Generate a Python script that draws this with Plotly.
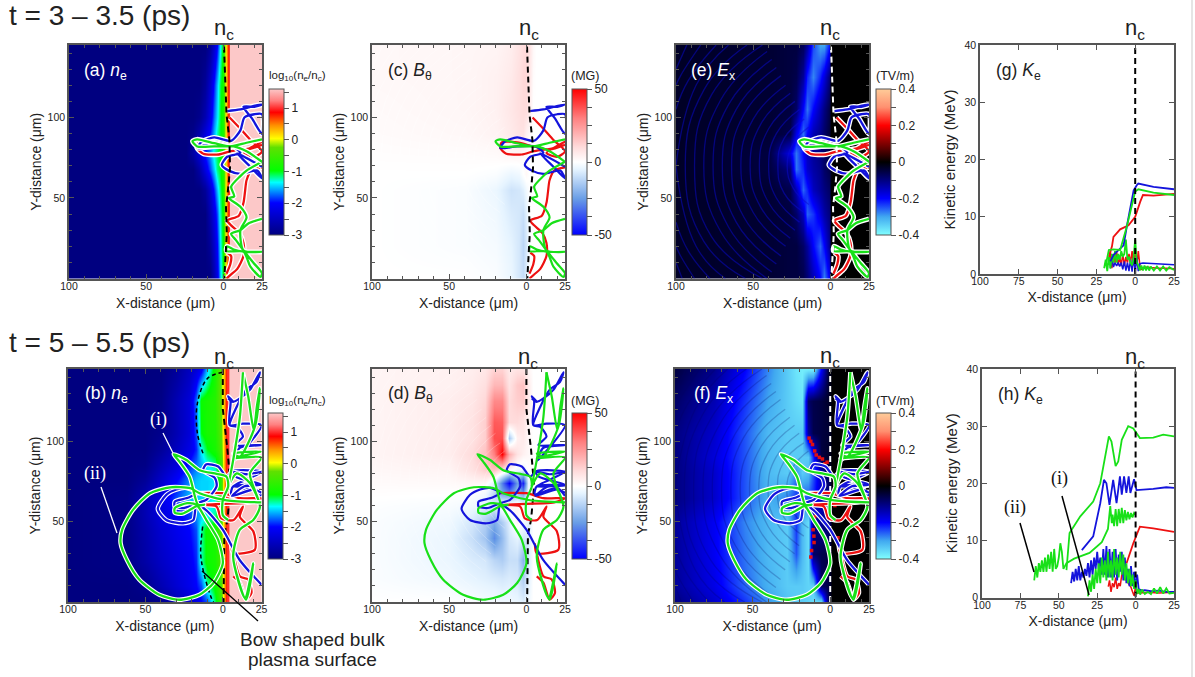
import plotly.graph_objects as go

W, H = 1195, 677

# ---------- field data ----------
NE_A_U = [-100,-24,-20,-16,-12,-9,-6,-4,-2,-0.5,1,2.5,3.5,4.5,25]
NE_A_Y = [0,20,40,55,68,78,88,100,120,145]
NE_A_Z = [
 [-3,-3,-3,-3,-3,-3,-2.6,-2.2,-1.5,-1,-0.1,0.5,1,1.6,1.6],
 [-3,-3,-3,-3,-3,-2.8,-2.4,-2,-1.4,-0.9,-0.1,0.5,1,1.6,1.6],
 [-3,-3,-3,-3,-3,-2.6,-2.2,-1.8,-1.25,-0.9,-0.1,0.5,1,1.6,1.6],
 [-3,-3,-3,-3,-2.8,-2.4,-1.9,-1.5,-1.15,-0.8,-0.1,0.5,1,1.6,1.6],
 [-3,-3,-3,-2.7,-2.2,-1.8,-1.45,-1.15,-1,-0.8,-0.1,0.5,1,1.6,1.6],
 [-3,-3,-2.7,-2.3,-1.9,-1.6,-1.25,-1.1,-0.9,-0.7,-0.1,0.5,1,1.6,1.6],
 [-3,-3,-2.9,-2.6,-2.2,-1.9,-1.5,-1.2,-1,-0.8,-0.1,0.5,1,1.6,1.6],
 [-3,-3,-3,-2.9,-2.6,-2.2,-1.7,-1.4,-1.05,-0.8,-0.1,0.5,1,1.6,1.6],
 [-3,-3,-3,-3,-2.8,-2.4,-1.9,-1.5,-1.1,-0.8,-0.1,0.5,1,1.6,1.6],
 [-3,-3,-3,-3,-3,-2.8,-2.4,-2,-1.4,-0.9,-0.1,0.5,1,1.6,1.6],
]
NE_B_U = [-100,-62,-50,-40,-30,-22,-17,-14,-10,-5,-1,1,2.5,3.5,4.5,25]
NE_B_Y = [0,10,25,45,55,65,75,85,95,105,125,145]
NE_B_Z = [
 [-3,-3,-3,-2.9,-2.6,-2.4,-2.2,-2,-1.8,-1.1,-0.5,0.3,1,1,1.6,1.6],
 [-3,-3,-2.9,-2.6,-2.35,-2.15,-2,-1.8,-1.2,-0.9,-0.4,0.3,1,1,1.6,1.6],
 [-3,-2.95,-2.7,-2.45,-2.25,-2.1,-1.9,-1.25,-0.9,-0.8,-0.4,0.3,1,1,1.6,1.6],
 [-3,-2.95,-2.65,-2.35,-2.15,-2,-1.8,-1.2,-0.9,-0.8,-0.4,0.3,1,1,1.6,1.6],
 [-3,-2.95,-2.6,-2.25,-2.05,-1.85,-1.6,-1.5,-1.4,-1.2,-0.5,0.3,1,1,1.6,1.6],
 [-3,-2.95,-2.6,-2.2,-1.8,-1.5,-1.45,-1.45,-1.45,-1.3,-0.6,0.3,1,1,1.6,1.6],
 [-3,-3,-2.8,-2.4,-2,-1.65,-1.5,-1.45,-1.45,-1.4,-0.6,0.3,1,1,1.6,1.6],
 [-3,-3,-2.95,-2.6,-2.3,-1.9,-1.7,-1.55,-1.35,-1.2,-0.6,0.3,1,1,1.6,1.6],
 [-3,-3,-3,-2.8,-2.5,-2.2,-1.9,-1.35,-1,-0.8,-0.4,0.3,1,1,1.6,1.6],
 [-3,-3,-3,-2.9,-2.6,-2.3,-1.8,-1,-0.8,-0.75,-0.3,0.3,1,1,1.6,1.6],
 [-3,-3,-3,-2.95,-2.6,-2.3,-1.7,-0.9,-0.8,-0.7,-0.2,0.3,1,1,1.6,1.6],
 [-3,-3,-3,-3,-2.8,-2.5,-2.3,-2.1,-1.5,-0.8,-0.2,0.3,1,1,1.6,1.6],
]
B_C_U = [-100,-40,-20,-10,-5,-2,0,2,4,6,25]
B_C_Y = [0,20,40,55,65,75,90,105,125,145]
B_C_Z = [
 [0,0,-1,-4,-8,-10,-6,0,0,0,0],
 [0,-1,-2,-5,-8,-12,-8,-1,0,0,0],
 [0,-1,-3,-7,-8,-10,-6,0,0,0,0],
 [0,-1,-4,-9,-8,-6,-3,0,0,0,0],
 [0,0,-1,-4,-3,0,2,0,0,0,0],
 [0.5,0.7,1,2,2,1,1,0,0,0,0],
 [1.2,2,3.5,6,8,8,4,2,0,0,0],
 [1.5,2.5,4,7,9,10,10,6,0,0,0],
 [2,2.5,4,6,9,11,11,8,1,0,0],
 [2,2.5,3,5,8,10,11,8,2,0,0],
]
B_D_U = [-100,-50,-35,-27,-21,-16,-11,-6,-2,1,4,25]
B_D_Y = [0,15,26,40,50,60,67,74,82,92,102,112,125,135,145]
B_D_Z = [
 [0,0,-1,-2,-2,-3,-3,-4,-6,-3,0,0],
 [-1,-3,-5,-6,-7,-8,-7,-8,-14,-6,0,0],
 [-1,-4,-7,-8,-12,-14,-10,-10,-20,-8,0,0],
 [-1,-4,-10,-16,-28,-18,-8,-5,-8,-8,0,0],
 [-1,-3,-8,-14,-22,-14,-6,3,-2,-6,0,0],
 [-0.5,-1.5,-3,-6,-6,2,4,3,0,-3,0,0],
 [0.3,0,-0.5,-3,-12,-22,-25,-15,-22,-3,0,0],
 [1.2,1.5,2.5,2,-6,-30,-50,-25,-45,-5,0,0],
 [2.2,3,8,13,15,8,2,-3,-5,0,0,0],
 [3,5,10,16,30,50,20,8,4,2,0,0],
 [3,5,8,13,38,38,-15,4,6,2,0,0],
 [3,5,8,13,36,35,10,10,8,3,0,0],
 [3,5,7,11,28,28,10,13,14,6,0,0],
 [3,4,6,9,18,18,8,14,16,6,0,0],
 [3,4,5,7,12,12,6,8,8,3,0,0],
]
E_E_U = [-100,-40,-26,-22,-18,-15,-11,-7,-4,-1,0.5,2,25]
E_E_Y = [0,20,40,55,68,78,90,105,125,145]
E_E_Z = [
 [-.03,-.04,-.05,-.05,-.06,-.09,-.14,-.2,-.28,-.2,0,0,0],
 [-.03,-.04,-.05,-.05,-.08,-.12,-.2,-.26,-.2,-.12,0,0,0],
 [-.03,-.04,-.05,-.08,-.15,-.26,-.23,-.17,-.13,-.1,0,0,0],
 [-.03,-.04,-.06,-.14,-.26,-.22,-.15,-.12,-.1,-.08,0,0,0],
 [-.03,-.05,-.1,-.27,-.22,-.16,-.13,-.11,-.08,-.06,-.02,0,0],
 [-.03,-.05,-.18,-.27,-.2,-.15,-.12,-.1,-.08,-.06,0,0,0],
 [-.03,-.04,-.06,-.18,-.27,-.2,-.14,-.11,-.08,-.05,0,0,0],
 [-.03,-.04,-.05,-.08,-.2,-.27,-.2,-.14,-.1,-.06,0,0,0],
 [-.03,-.04,-.05,-.06,-.12,-.22,-.28,-.22,-.17,-.1,0,0,0],
 [-.03,-.04,-.05,-.05,-.07,-.12,-.24,-.3,-.3,-.22,0,0,0],
]
E_F_U = [-100,-75,-55,-40,-28,-22,-18,-14,-11,-6,-1,1,25]
E_F_Y = [0,10,30,50,65,80,90,105,125,145]
E_F_Z = [
 [-.1,-.16,-.23,-.29,-.33,-.34,-.34,-.35,-.36,-.36,-.03,0,0],
 [-.12,-.18,-.26,-.31,-.34,-.34,-.34,-.35,-.35,-.08,-.05,0,0],
 [-.12,-.19,-.27,-.32,-.34,-.25,-.32,-.36,-.08,-.06,-.05,0,0],
 [-.12,-.19,-.28,-.32,-.34,-.23,-.32,-.36,-.1,-.12,-.1,0,0],
 [-.1,-.16,-.25,-.31,-.28,-.23,-.25,-.25,-.22,-.15,-.1,0,0],
 [-.1,-.16,-.25,-.32,-.34,-.28,-.34,-.32,-.25,-.15,-.05,0,0],
 [-.1,-.17,-.25,-.32,-.34,-.34,-.34,-.34,-.22,-.05,-.03,0,0],
 [-.1,-.16,-.25,-.32,-.34,-.34,-.34,-.12,-.06,-.05,-.04,0,0],
 [-.08,-.14,-.23,-.3,-.34,-.36,-.37,-.08,-.06,-.05,-.03,0,0],
 [-.05,-.11,-.2,-.28,-.34,-.37,-.38,-.38,-.38,-.2,-.03,0,0],
]

# ---------- wavefront streaks seen in the field maps ----------
STREAK_X = [-14,-24,-28,-24,-14,None,-17,-30,-34,-30,-17,None,-20,-35,-40,-35,-20,None,-23,-40,-46,-40,-23,None,
            -26,-45,-52,-45,-26,None,-29,-50,-58,-50,-29,None,-32,-56,-64,-56,-32,None,-35,-61,-70,-61,-35,None,
            -38,-66,-76,-66,-38,None,-41,-71,-82,-71,-41,None,-44,-77,-88,-77,-44,None,-54,-82,-94,-82,-55,None,
            -66,-87,-100,None,-100,-87,-68,None,-74,-92,-100,None,-100,-92,-78,None,-84,-97,-100,None,-100,-97,-88,None,-93,-100,None,-100,-96]
STREAK_Y = [94,84,70,56,46,None,99,87,70,53,41,None,105,90,70,50,35,None,110,93,70,47,30,None,
            115,96,70,44,25,None,120,99,70,41,20,None,126,102,70,38,14,None,131,105,70,35,9,None,
            136,108,70,32,4,None,141,111,70,29,0,None,145,114,70,26,0,None,145,117,70,23,0,None,
            145,120,70,None,70,20,0,None,145,123,105,None,35,17,0,None,145,126,120,None,20,14,0,None,145,130,None,10,0]
F_RED_X = [-13.6,-12.5,-11.4,-10,-9,-7,-5,-2,-8,-10,-11,-10.4,-12.5,-12,-10.5,3,5,-3.5]
F_RED_Y = [102,100,98,94,91.5,90,89,87,47,53,45,37,28,32,41,60,40,86]

# ---------- critical-density contours ----------
NC_T1_X = [0.4,1,2,3.9,4.3,3.2,1.7,2.2,0.6]
NC_T1_Y = [144,124,102,86,69,57,44,28,0]
NC_T2_X = [0,0,3,5,3,1,0.5]
NC_T2_Y = [145,120,95,72,51,42,0]
BOW_UP_X = [0,-10,-16.4,-16.4,-12]
BOW_UP_Y = [143,139,123.6,105,90.5]
BOW_LO_X = [-13,-14.3,-12.5,-7.8,-6]
BOW_LO_Y = [47,30.4,19,3.5,0]

# ---------- trajectories, first time window ----------
T1_RED_1_X = [2,5,9,13,13,10.5,5,2.5,10,13,14,15,18,25]
T1_RED_1_Y = [0,2.5,6,14,22,28,33,36,39,47,54,61,67,69]
T1_RED_2_X = [2.5,5,4.5,2]
T1_RED_2_Y = [16,14,9,3]
T1_RED_3_X = [4,11,17.5,25,20,13,25,17.5,4.5,-3,-13,-17,-16,-6,4.5,15,25]
T1_RED_3_Y = [100,93,86,79,75.6,78,85,81,79,77,77.5,81,84.5,84.5,82,80,83]
T1_BLUE_X = [2.5,11,22,25,20,13,18.5,25,25,20,13.6,11,5,-6,-14,-17,-14,-6,6,11,2.4,-1,3.5,11,22,25,17.5,9,25]
T1_BLUE_Y = [104,105,107.6,108,106.6,106.6,99.4,89.7,102,102,100,92,85.5,87.6,85,81,81,82,82,78,75.6,70.5,67,65,67,62,69.4,77.7,69.4]
T1_GREEN_1_X = [25,15,4.5,-6,-17,-20,-17,-6,6.7,15,25]
T1_GREEN_1_Y = [86.4,84.3,82,84,86.4,85.3,82,82,82,79,72.5]
T1_GREEN_2_X = [25,15,11,5,7,3.5,11,15,11,13,25,13,6.7,2.4,2,13,17.5,24,25,19.7,13,8,5,11,16.4,25]
T1_GREEN_2_Y = [72.5,67,63.6,57,51,50,44.6,38,30,17.4,16.5,16.7,18,20,17,16.7,7.4,1,3.3,9.5,17.4,24,27.7,30,34.3,37]

# ---------- trajectories, second time window ----------
T2_GREEN_II_X = [25,2.5,-15,-21,-34,-47,-58,-65,-66,-62,-54,-41,-28,-15,-6,0,-3,-10.6,-17,-23,-31,-31,-26,-17,-12,-16,-21.4,-28,-31.7,-23.5,-15,-4,2.4,3.5,0,0,3.5]
T2_GREEN_II_Y = [62,63.3,67.7,70.8,71.4,67.7,57.3,45,36.6,26.3,14,4.5,1.4,4.5,11.8,24,38.7,51,60.5,61.5,58.4,55.5,55,59.6,60.5,60.5,78,87.4,92,88.4,82,79.7,78,72,63.6,54,51]
T2_GREEN_R_X = [13,16.4,20,22,24,21,11,6.7,25,6.7,25,17.5,24,19.7,11,6.7,14.3,19.7,15,6.7,11,19.7,24,17.5,9,3.5]
T2_GREEN_R_Y = [143,128,107,121.5,133,110,90.5,92.5,93.6,89.5,90,80,59.4,51,45,28,2.5,24,1.5,28,45,51,59.4,74,80,72]
T2_GREEN_3_X = [13,11,7,3.5]
T2_GREEN_3_Y = [143,115,90,72]
T2_BLUE_1_X = [25,11,0,-10.6,-17,-19,-25.7,-36.5,-42,-36.5,-30,-23.5,-17,-22,-31,-31,-25,-17,-10.6,-4,-5,-12.7,-10.6,-3,2.4,6.7,25,6.7,25,6.7,5.5,20,25]
T2_BLUE_1_Y = [10.8,26,45,57,60.5,51,49,51,58,66.7,70,71,68,65,62.5,59.4,58.5,61.5,63.6,72,77,82,85.7,84.3,78,81.5,81,72,72.5,72,67,71,66]
T2_BLUE_2_X = [3.5,6.7,11,17.5,24,21.8,15,9,4.5,9,13,7.8,25,11,7,25,13,4.5,5,3.5,6.7]
T2_BLUE_2_Y = [126.7,124.6,126.7,132,143,137,132,121.5,110,109,103,97.7,97.7,96,88,110,111,110,125,128,124.6]
T2_BLUE_3_X = [25,15,6,8,25,14,6,20,25]
T2_BLUE_3_Y = [81,79.5,81,78,73,72,66,70,68]
T2_RED_X = [-17,0,11,25,18,-15,-4,-1,7,13,11,19.7,20.7,6.7,5.5,11,16.4,18.5,15,11,6.7]
T2_RED_Y = [67.7,67.7,64.6,64.6,62,60.5,59.4,52,51,59.4,53,44,32.5,30.4,36,16,14,5.6,1.5,12,16]

# ---------- kinetic energy, first window ----------
G_BLUE_X = [-16,-14,-11.8,-7.5,-5.4,-1,1,2,11.8,25]
G_BLUE_Y = [2.2,3.3,3.9,5,8.3,14.6,15.5,15.8,15.2,14.8]
G_RED_X = [-17,-15,-14,-9.7,-4.3,0,3.2,5,11.8,25]
G_RED_Y = [3,4.8,6.5,7.8,8.5,10,12.6,13.8,13.7,14]
G_GREEN_X = [-19,-17,-14,-9.7,-5.4,0,2,11.8,25]
G_GREEN_Y = [1.5,4.2,4.3,4.2,8.3,14.4,14.8,14.2,13.8]
G_LOW_RED_X = [-17,-16,-15,-14,-13,-12,-11,-10,-9,-8,-7,-6,-5,-4,-3,-2,-1,0,1,2,3,4,6,10,15,20,25]
G_LOW_RED_Y = [2,4,1,3.5,2,4,1.5,3,1.5,3.5,1.5,3,2,3.5,2,4,1.5,4.5,1.5,4,1.5,0.8,1.2,1.1,1,1,0.9]
G_LOW_BLUE_X = [-16,-15,-14,-13,-12,-11,-10,-9,-8,-7,-6,-5,-4,-3,-2,-1,0,1,2,3,5,10,15,20,25]
G_LOW_BLUE_Y = [1,3,1.2,2,1.4,2,1.3,2,0.8,2.2,0.6,2,0.5,2.5,0.4,3,0.3,3,0.5,1.8,1.9,1.8,1.7,1.7,1.6]
G_LOW_GREEN_X = [-20,-19,-18,-17,-16,-15,-14,-13,-12,-11,-10,-9,-8,-7,-6,-5,-4,-3,-2,-1,0,1,2,3,4,5,6,7,8,9,10,12,14,16,18,20,22,25]
G_LOW_GREEN_Y = [1,2.5,0.5,3,1,3.5,2,4,2,3.5,2.5,4,3,3.5,6,2.5,3,2,1.5,3,6,2,1.5,0.6,1.5,0.6,1.5,0.6,1.4,0.6,1.3,0.6,1.3,0.6,1.3,0.6,1.2,0.7]

# ---------- kinetic energy, second window ----------
H_GREEN_TOP_X = [-45,-43,-36,-27.6,-23,-20,-17.4,-15.7,-13,-11.3,-9,-4.8,-1.5,2.8,11.5,18,25]
H_GREEN_TOP_Y = [4.8,11.3,14.2,16.8,20,24.7,28.2,27.3,23,23.8,27.6,30,29.6,27.9,28,28.5,28.2]
H_BLUE_TOP_X = [-35,-27.6,-23,-20.6,-19,-17,-14.6,-12.4,-10.2,-9,-7.5,-6,-4.5,-3.4,-1,0.6,11.5,20,25]
H_BLUE_TOP_Y = [8.3,10.7,16.5,20.6,20,16.2,20.6,16.5,21.2,18,21.2,18.3,21.2,18.3,20.7,18.8,19,19.3,19.2]
H_GREEN_II_X = [-66,-65,-64,-63,-62,-61,-60,-59,-58,-57,-56,-55,-54,-53,-52,-51,-50,-49,-48,-47,-45,-40,-30,-22,-18,-17,-16.5,-15.5,-15,-14,-13,-12,-11,-10,-9,-8,-7,-6,-5,-4,-3,-2,-1,0]
H_GREEN_II_Y = [3,5.5,3.5,6,4.5,6.5,4.5,7,4.5,7.5,5,8,4.5,8.5,5,5.5,7,9.5,8,5,6,6.8,7.8,9.7,12,14.5,16,13,14.5,12.5,15.5,12.5,15.5,13,15.7,13,15.3,13.5,15,13.7,14.8,14,14.8,14.5]
H_RED_TOP_X = [-5.9,-1.5,2.8,11.5,25]
H_RED_TOP_Y = [6,9.5,12.4,12.1,11.5]
H_RED_LOW_X = [-17.8,-17,-16,-15,-14,-13,-12,-11,-10,-9,-8,-7,-6,-5,-4,-3,-2,-1,0,1,3,8,15,25]
H_RED_LOW_Y = [1.9,3,1,2.5,1.8,3.5,1.5,2.5,2,4,4.2,3.5,3,2.6,2.2,1.8,1,0.3,2,0.8,0.8,0.9,0.8,0.9]
H_BLUE_LOW_X = [-42,-41,-40,-39,-38,-37,-36,-35,-34,-33,-32,-31,-30,-29,-28,-27,-26,-25,-24,-23,-22,-21,-20,-19,-18,-17,-16,-15,-14,-13,-12,-11,-10,-9,-8,-7,-6,-5,-4,-3,-2,-1,0,1,2,4,6,10,15,20,25]
H_BLUE_LOW_Y = [2.5,4.5,2.8,5,3,5.5,3,4.5,3.5,5,3.8,6,3.5,6.5,4,7,5,8,5,7,4,8.5,4,9,3.5,8.5,3.5,8,3.5,8.5,3,7.5,4.5,8,3,7,2.5,5,2,5.5,2,4.5,1.5,4,1.5,1.2,1.3,1.1,1.2,1,1]
H_GREEN_LOW_X = [-31,-30,-29,-28,-27,-26,-25,-24,-23,-22,-21,-20,-19,-18,-17,-16,-15,-14,-13,-12,-11,-10,-9,-8,-7,-6,-5,-4,-3,-2,-1,0,1,2,3,4,6,8,10,12,14,16,18,20,22,25]
H_GREEN_LOW_Y = [0.2,3,1,4,1.5,5,2.5,6,2.5,7,3.5,6.5,3,8,3.5,6.5,3,8.5,4,7,3.5,8,4,7.5,3,6,2.5,5,2,4,1.5,3,0.6,1.5,0.5,1.4,0.6,1,0.6,1.6,0.7,1.8,0.7,1.6,0.7,0.8]

# ---------- tick labels ----------
MAP_X_VALS = [-100,-50,0,25]
MAP_X_TEXT = ["100","50","0","25"]
MAP_Y_VALS = [50,100]
KE_X_VALS = [-100,-75,-50,-25,0,25]
KE_X_TEXT = ["100","75","50","25","0","25"]
KE_Y_VALS = [0,10,20,30,40]
NE_TICKS = [-3,-2.5,-2,-1.5,-1,-0.5,0,0.5,1,1.5]
NE_TEXT = ["-3","","-2","","-1","","0","","1",""]
B_TICKS = [-50,-37.5,-25,-12.5,0,12.5,25,37.5,50]
B_TEXT = ["-50","","","","0","","","","50"]
E_TICKS = [-0.4,-0.3,-0.2,-0.1,0,0.1,0.2,0.3,0.4]
E_TEXT = ["-0.4","","-0.2","","0","","0.2","","0.4"]

# ---------- colours ----------
CS_NE = [[0,"#000080"],[0.125,"#0000c8"],[0.22,"#0000ff"],[0.36,"#00ffff"],[0.44,"#00ff00"],[0.6,"#60e000"],[0.66,"#ffff00"],[0.75,"#ff9000"],[0.84,"#ff0000"],[0.92,"#ff8080"],[1,"#fcc8c8"]]
CS_B = [[0,"#0000ff"],[0.25,"#6a9ee6"],[0.45,"#e6f4ff"],[0.5,"#ffffff"],[0.6,"#ffdcdc"],[0.8,"#ff8080"],[1,"#ff0000"]]
CS_E = [[0,"#80ffff"],[0.125,"#40a8f0"],[0.25,"#0000ff"],[0.5,"#000000"],[0.75,"#ff0000"],[0.875,"#ff9070"],[1,"#ffcc99"]]
RED, BLUE, GREEN = "#ee1111", "#1414dc", "#18e018"
AXC = "#555555"
TXT = "#222222"

SANS = "Liberation Sans"
SERIF = "Liberation Serif"
def px(x): return x / W
def py(y): return 1 - y / H

fig = go.Figure()
layout = dict(width=W, height=H, margin=dict(l=0,r=0,t=0,b=0,autoexpand=False), showlegend=False,
              paper_bgcolor="white", plot_bgcolor="white", font=dict(family=SANS, color=TXT))
annos, shapes = [], []

def axes(i, x0, x1, y0, y1, kind):
    xk, yk = ("xaxis%d"%i, "yaxis%d"%i)
    ax = dict(domain=[px(x0),px(x1)], anchor="y%d"%i, showgrid=False, zeroline=False, showline=True,
              mirror="allticks", linecolor=AXC, linewidth=1.5, ticks="inside", tickcolor=AXC, ticklen=5,
              tickfont=dict(size=10.5, color=TXT), tickmode="array", ticklabelstandoff=-3,
              title=dict(text="X-distance (\u03bcm)", font=dict(size=14, color=TXT), standoff=7 if kind == "map" else 6))
    ay = dict(domain=[py(y1),py(y0)], anchor="x%d"%i, showgrid=False, zeroline=False, showline=True,
              mirror="allticks", linecolor=AXC, linewidth=1.5, ticks="inside", tickcolor=AXC, ticklen=5,
              tickfont=dict(size=10.5, color=TXT), tickmode="array")
    ax["range"] = [-100,25]
    if kind == "map":
        ax.update(tickvals=MAP_X_VALS, ticktext=MAP_X_TEXT, minor=dict(dtick=10, tick0=0, ticks="inside", ticklen=3, tickcolor=AXC))
        ay.update(range=[0,145], tickvals=MAP_Y_VALS, title=dict(text="Y-distance (\u03bcm)", font=dict(size=14, color=TXT), standoff=3),
                  minor=dict(dtick=10, tick0=0, ticks="inside", ticklen=3, tickcolor=AXC))
    else:
        ax.update(tickvals=KE_X_VALS, ticktext=KE_X_TEXT)
        ay.update(range=[0,40], tickvals=KE_Y_VALS, title=dict(text="Kinetic energy (MeV)", font=dict(size=15, color=TXT), standoff=5))
    layout[xk], layout[yk] = ax, ay

def heat(i, U, Y, Z, cs, zmin, zmax, cbx, cby0, cby1, tv, tt):
    fig.add_trace(go.Heatmap(x=U, y=Y, z=Z, colorscale=cs, zmin=zmin, zmax=zmax, zsmooth="best",
        xaxis="x%d"%i, yaxis="y%d"%i, hoverinfo="skip",
        colorbar=dict(x=px(cbx), xanchor="left", y=py(cby1), yanchor="bottom", lenmode="pixels", len=cby1-cby0,
                      thicknessmode="pixels", thickness=15, xpad=0, ypad=0, outlinecolor=AXC, outlinewidth=1,
                      tickmode="array", tickvals=tv, ticktext=tt, ticks="outside", ticklen=5, tickcolor=AXC,
                      tickfont=dict(size=12, color=TXT), borderwidth=0)))

def line(i, X, Y, color, width, casing=0, dash=None, smooth=0, opacity=1):
    shape = dict(shape="spline", smoothing=smooth) if smooth else {}
    if casing:
        fig.add_trace(go.Scatter(x=X, y=Y, mode="lines", line=dict(color="white", width=casing, **shape), xaxis="x%d"%i, yaxis="y%d"%i, hoverinfo="skip"))
    fig.add_trace(go.Scatter(x=X, y=Y, mode="lines", opacity=opacity, line=dict(color=color, width=width, dash=dash, **shape), xaxis="x%d"%i, yaxis="y%d"%i, hoverinfo="skip"))

def traj1(i, w, c):
    for X,Y,col in [(T1_RED_1_X,T1_RED_1_Y,RED),(T1_RED_2_X,T1_RED_2_Y,RED),(T1_RED_3_X,T1_RED_3_Y,RED),
                    (T1_BLUE_X,T1_BLUE_Y,BLUE),(T1_GREEN_2_X,T1_GREEN_2_Y,GREEN),(T1_GREEN_1_X,T1_GREEN_1_Y,GREEN)]:
        line(i,X,Y,col,w,c,smooth=0.7)
def traj2(i, w, c):
    for X,Y,col in [(T2_RED_X,T2_RED_Y,RED),(T2_BLUE_1_X,T2_BLUE_1_Y,BLUE),(T2_BLUE_2_X,T2_BLUE_2_Y,BLUE),(T2_BLUE_3_X,T2_BLUE_3_Y,BLUE),
                    (T2_GREEN_R_X,T2_GREEN_R_Y,GREEN),(T2_GREEN_3_X,T2_GREEN_3_Y,GREEN),(T2_GREEN_II_X,T2_GREEN_II_Y,GREEN)]:
        line(i,X,Y,col,w,c,smooth=0.7)

def text(x, y, s, size, color=TXT, family=SANS, xa="left", angle=0):
    annos.append(dict(xref="paper", yref="paper", x=px(x), y=py(y), text=s, showarrow=False, xanchor=xa, yanchor="middle",
                      font=dict(size=size, color=color, family=family), textangle=angle))

# panels
axes(1,69,262,45,278.5,"map"); axes(2,68,261.5,369,602,"map")
axes(3,372,565,45,278.5,"map"); axes(4,372,565,369,602,"map")
axes(5,676,869,45,278.5,"map"); axes(6,675,869,369,602,"map")
axes(7,980,1174,45,274,"ke"); axes(8,982,1174,369,597.5,"ke")

heat(1,NE_A_U,NE_A_Y,NE_A_Z,CS_NE,-3,1.6,269,89,235,NE_TICKS,NE_TEXT)
heat(2,NE_B_U,NE_B_Y,NE_B_Z,CS_NE,-3,1.6,268,413.5,559,NE_TICKS,NE_TEXT)
heat(3,B_C_U,B_C_Y,B_C_Z,CS_B,-50,50,572,89,235,B_TICKS,B_TEXT)
heat(4,B_D_U,B_D_Y,B_D_Z,CS_B,-50,50,572,413.5,559,B_TICKS,B_TEXT)
heat(5,E_E_U,E_E_Y,E_E_Z,CS_E,-0.4,0.4,876,89,235,E_TICKS,E_TEXT)
heat(6,E_F_U,E_F_Y,E_F_Z,CS_E,-0.4,0.4,876,413.5,559,E_TICKS,E_TEXT)

# wave texture
line(3,STREAK_X,STREAK_Y,"white",1,smooth=1.3,opacity=0.3)
line(4,STREAK_X,STREAK_Y,"white",1,smooth=1.3,opacity=0.25)
line(5,STREAK_X,STREAK_Y,"#0a0ad0",1.3,smooth=1.3,opacity=0.5)
line(6,STREAK_X,STREAK_Y,"#000060",1.3,smooth=1.3,opacity=0.22)
fig.add_trace(go.Scatter(x=F_RED_X, y=F_RED_Y, mode="markers", marker=dict(color="#e01010", size=3.5, symbol="square"),
                         xaxis="x6", yaxis="y6", hoverinfo="skip"))

traj1(1,2.3,5); line(1,NC_T1_X,NC_T1_Y,"black",2,dash="6px,4px")
traj1(3,2.2,0); line(3,NC_T1_X,NC_T1_Y,"black",2,dash="6px,4px")
traj1(5,2.3,5); line(5,NC_T1_X,NC_T1_Y,"white",2,dash="6px,4px")
line(2,BOW_UP_X,BOW_UP_Y,"black",1.5,dash="4px,3px",smooth=1)
line(2,BOW_LO_X,BOW_LO_Y,"black",1.5,dash="4px,3px",smooth=1)
line(2,NC_T2_X,NC_T2_Y,"black",2,dash="6px,4px")
line(4,NC_T2_X,NC_T2_Y,"black",2,dash="6px,4px")
line(6,[0,0],[0,145],"white",2,dash="6px,4px")
traj2(2,2.3,4.5); traj2(4,2.2,0); traj2(6,2.3,4.5)

for i,(X,Y,col,w) in [(7,t) for t in [(G_LOW_RED_X,G_LOW_RED_Y,RED,1.5),(G_LOW_BLUE_X,G_LOW_BLUE_Y,BLUE,1.5),(G_LOW_GREEN_X,G_LOW_GREEN_Y,GREEN,1.8),
                                      (G_RED_X,G_RED_Y,RED,1.8),(G_BLUE_X,G_BLUE_Y,BLUE,1.8),(G_GREEN_X,G_GREEN_Y,GREEN,1.8)]] + \
                     [(8,t) for t in [(H_RED_LOW_X,H_RED_LOW_Y,RED,1.5),(H_RED_TOP_X,H_RED_TOP_Y,RED,1.8),(H_BLUE_LOW_X,H_BLUE_LOW_Y,BLUE,1.8),
                                      (H_BLUE_TOP_X,H_BLUE_TOP_Y,BLUE,1.8),(H_GREEN_LOW_X,H_GREEN_LOW_Y,GREEN,1.8),(H_GREEN_II_X,H_GREEN_II_Y,GREEN,1.8),
                                      (H_GREEN_TOP_X,H_GREEN_TOP_Y,GREEN,1.8)]]:
    line(i,X,Y,col,w)
line(7,[0,0],[0,40],"black",2,dash="6px,4px")
line(8,[0,0],[0,40],"black",2,dash="6px,4px")

# text
text(7,16,"t = 3 \u2013 3.5 (ps)",28); text(7,342,"t = 5 \u2013 5.5 (ps)",28)
for x,y in [(224,29),(224,358),(529,29),(528,358),(830,29),(830,357),(1135,29),(1135,358)]:
    text(x,y,"n<sub>c</sub>",22,xa="center")
def lab(x,y,s,c="white"): text(x,y,s,17.5,c)
lab(82,71,"(a) <i>n</i><sub>e</sub>"); lab(83,394,"(b) <i>n</i><sub>e</sub>")
lab(386,71,"(c) <i>B</i><sub>\u03b8</sub>","#222222"); lab(386,395,"(d) <i>B</i><sub>\u03b8</sub>","#222222")
lab(689,71,"(e) <i>E</i><sub>x</sub>"); lab(692,395,"(f) <i>E</i><sub>x</sub>")
lab(994,71,"(g) <i>K</i><sub>e</sub>","#222222"); lab(996,396,"(h) <i>K</i><sub>e</sub>","#222222")
for y in (76,401): text(267,y,"log<sub>10</sub>(n<sub>e</sub>/n<sub>c</sub>)",11.5)
for y in (76,401): text(569,y,"(MG)",12.5)
for y in (76,401): text(874,y,"(TV/m)",12.5)
text(148,419,"(i)",18,"white",SERIF); text(82,473,"(ii)",18,"white",SERIF)
text(1049,478,"(i)",18,"#111111",SERIF); text(1002,507,"(ii)",18,"#111111",SERIF)
text(312,639,"Bow shaped bulk",19,xa="center"); text(312,659,"plasma surface",19,xa="center")

def seg(x0,y0,x1,y1,c,w=1.3):
    shapes.append(dict(type="line",xref="paper",yref="paper",x0=px(x0),y0=py(y0),x1=px(x1),y1=py(y1),line=dict(color=c,width=w)))
seg(163,433,173,453,"white"); seg(101,487,117,533,"white")
seg(202,571,258,621,"black")
seg(1020,523,1034,572,"black",1.5); seg(1062,496,1089,595,"black",1.5)
seg(1192,0,1192,677,"#dddddd",1.5)

layout["annotations"], layout["shapes"] = annos, shapes
fig.update_layout(**layout)
fig.write_html("out.html", config={"displayModeBar": False},
               post_script="document.body.style.margin='0';document.body.style.overflow='hidden';")
